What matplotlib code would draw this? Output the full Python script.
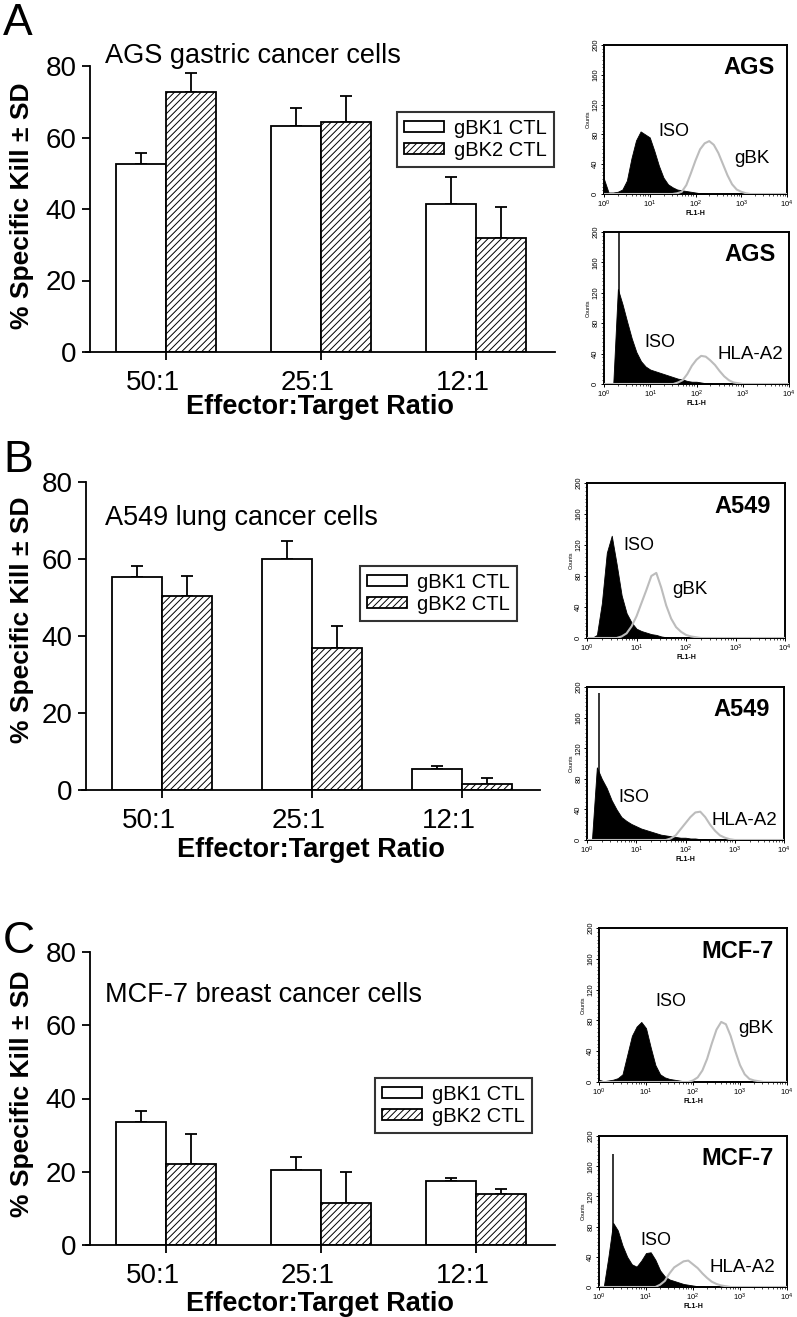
import numpy as np
import matplotlib.pyplot as plt
from matplotlib.ticker import MultipleLocator, FixedLocator, FixedFormatter, LogLocator, NullFormatter
from matplotlib.transforms import ScaledTranslation

plt.rcParams['font.family'] = ['Liberation Sans', 'DejaVu Sans']
plt.rcParams['mathtext.default'] = 'regular'
plt.rcParams['hatch.linewidth'] = 0.7
plt.rcParams['hatch.color'] = '#1a1a1a'

W, H = 797, 1317

# ---- bar chart data (% specific kill, upper SD) ----
ratios = ['50:1', '25:1', '12:1']
series = ['gBK1 CTL', 'gBK2 CTL']

ags_gbk1 = [52.5, 63.2, 41.5]
ags_gbk1_sd = [3.3, 5.0, 7.5]
ags_gbk2 = [72.8, 64.3, 32.0]
ags_gbk2_sd = [5.2, 7.4, 8.5]

a549_gbk1 = [55.3, 60.0, 5.5]
a549_gbk1_sd = [2.9, 4.8, 0.8]
a549_gbk2 = [50.3, 37.0, 1.5]
a549_gbk2_sd = [5.3, 5.6, 1.5]

mcf7_gbk1 = [33.5, 20.5, 17.5]
mcf7_gbk1_sd = [3.0, 3.6, 0.7]
mcf7_gbk2 = [22.0, 11.5, 14.0]
mcf7_gbk2_sd = [8.2, 8.3, 1.2]

# ---- flow cytometry histograms: counts per 0.1-decade channel, FL1-H 10^0..10^4 ----
log_bins = np.round(np.arange(0, 4.01, 0.1), 1)

ags_iso = [20, 2, 2, 3, 6, 18, 48, 72, 84, 80, 76, 58, 38, 22, 13, 9, 6, 5, 4, 3,
           2, 1, 1, 0, 0, 0, 0, 0, 0, 0, 0, 0, 0, 0, 0, 0, 0, 0, 0, 0, 0]
ags_gbk = [0, 0, 0, 0, 0, 0, 0, 0, 0, 0, 0, 0, 0, 0, 0, 0, 1, 3, 12, 28,
           45, 60, 68, 71, 66, 55, 40, 25, 13, 6, 3, 1, 0, 0, 0, 0, 0, 0, 0, 0, 0]
ags_iso2 = [0, 0, 0, 125, 105, 82, 60, 42, 30, 23, 19, 17, 15, 13, 11, 9, 7, 6, 4, 3,
            3, 2, 1, 1, 0, 0, 0, 0, 0, 0, 0, 0, 0, 0, 0, 0, 0, 0, 0, 0, 0]
ags_hla = [0, 0, 0, 0, 0, 0, 0, 0, 0, 0, 0, 0, 0, 0, 0, 0, 2, 5, 13, 24,
           32, 37, 36, 31, 25, 17, 10, 5, 2, 1, 0, 0, 0, 0, 0, 0, 0, 0, 0, 0, 0]

a549_iso = [0, 0, 4, 45, 110, 132, 95, 55, 32, 20, 12, 9, 7, 5, 4, 2, 1, 0, 0, 0,
            0, 0, 0, 0, 0, 0, 0, 0, 0, 0, 0, 0, 0, 0, 0, 0, 0, 0, 0, 0, 0]
a549_gbk = [0, 0, 0, 0, 0, 0, 0, 2, 6, 15, 28, 45, 62, 80, 84, 65, 42, 25, 14, 8,
            4, 2, 1, 0, 0, 0, 0, 0, 0, 0, 0, 0, 0, 0, 0, 0, 0, 0, 0, 0, 0]
a549_iso2 = [0, 0, 95, 80, 68, 52, 40, 30, 25, 21, 18, 15, 13, 11, 9, 7, 6, 5, 4, 3,
             3, 2, 2, 1, 1, 0, 0, 0, 0, 0, 0, 0, 0, 0, 0, 0, 0, 0, 0, 0, 0]
a549_hla = [0, 0, 0, 0, 0, 0, 0, 0, 0, 0, 0, 0, 0, 0, 0, 0, 0, 2, 6, 14,
            22, 30, 36, 37, 30, 20, 12, 6, 3, 1, 0, 0, 0, 0, 0, 0, 0, 0, 0, 0, 0]

mcf7_iso = [3, 1, 2, 3, 5, 10, 35, 60, 72, 78, 70, 45, 22, 10, 6, 4, 3, 2, 1, 0,
            0, 0, 0, 0, 0, 0, 0, 0, 0, 0, 0, 0, 0, 0, 0, 0, 0, 0, 0, 0, 0]
mcf7_gbk = [0, 0, 0, 0, 0, 0, 0, 0, 0, 0, 0, 0, 0, 0, 0, 0, 0, 0, 0, 0,
            2, 6, 15, 30, 50, 68, 78, 75, 60, 40, 22, 10, 4, 2, 1, 0, 0, 0, 0, 0, 0]
mcf7_iso2 = [0, 0, 40, 85, 75, 55, 40, 30, 27, 35, 45, 46, 36, 22, 14, 10, 8, 6, 4, 3,
             2, 1, 1, 0, 0, 0, 0, 0, 0, 0, 0, 0, 0, 0, 0, 0, 0, 0, 0, 0, 0]
mcf7_hla = [0, 0, 0, 0, 0, 0, 0, 0, 0, 0, 0, 0, 0, 3, 8, 18, 26, 30, 34, 35,
            30, 25, 18, 12, 7, 4, 2, 1, 0, 0, 0, 0, 0, 0, 0, 0, 0, 0, 0, 0, 0]

fig = plt.figure(figsize=(W / 100, H / 100), dpi=100)


def px_axes(l, t, r, b):
    return fig.add_axes([l / W, 1 - b / H, (r - l) / W, (b - t) / H])


def bar_panel(left, right, spine, top, bottom, first, step, g1, s1, g2, s2,
              title, title_y, leg_x, leg_y, xlab_x, xlab_y, ylab_y, lab_shift=-13):
    ax = px_axes(left, top, right, bottom)
    x = np.arange(len(ratios))
    w = 50 / step
    ax.bar(x - w / 2, g1, w, color='white', edgecolor='black', lw=1.3, label=series[0], zorder=2)
    ax.bar(x + w / 2, g2, w, color='white', edgecolor='black', lw=1.3, hatch='/////',
           label=series[1], zorder=2)
    ax.errorbar(x - w / 2, g1, yerr=[np.zeros(3), s1], fmt='none', ecolor='black',
                elinewidth=1.3, capsize=4, capthick=1.3, zorder=1)
    ax.errorbar(x + w / 2, g2, yerr=[np.zeros(3), s2], fmt='none', ecolor='black',
                elinewidth=1.3, capsize=4, capthick=1.3, zorder=1)
    ax.set_xlim((left - first) / step, (right - first) / step)
    ax.set_ylim(0, 80)
    ax.set_yticks([0, 20, 40, 60, 80])
    ax.set_xticks(x)
    ax.set_xticklabels(ratios)
    for sp in ['top', 'right']:
        ax.spines[sp].set_visible(False)
    for sp in ['left', 'bottom']:
        ax.spines[sp].set_linewidth(1.3)
    ax.spines['left'].set_position(('axes', (spine - left) / (right - left)))
    ax.spines['left'].set_bounds(0, 80)
    ax.tick_params(labelsize=20, width=1.3, length=6, direction='out')
    ax.tick_params(axis='x', pad=7)
    for lab in ax.get_xticklabels():
        lab.set_transform(lab.get_transform() +
                          ScaledTranslation(lab_shift / 100, 0, fig.dpi_scale_trans))
    fig.text(105 / W, 1 - title_y / H, title, fontsize=19.5, va='baseline')
    fig.text(xlab_x / W, 1 - xlab_y / H, 'Effector:Target Ratio',
             fontsize=19.5, weight='bold', ha='center', va='center')
    fig.text(22 / W, 1 - ylab_y / H, '% Specific Kill ± SD', fontsize=19,
             weight='bold', rotation=90, ha='center', va='center')
    leg = ax.legend(loc='upper left', bbox_to_anchor=(leg_x / W, 1 - leg_y / H),
                    bbox_transform=fig.transFigure, borderaxespad=0, fontsize=14.5,
                    frameon=True, fancybox=False, edgecolor='black', handlelength=2.0,
                    handleheight=0.45, handletextpad=0.5, labelspacing=0.15,
                    borderpad=0.35)
    leg.get_frame().set_linewidth(1.5)
    return ax


def hist_panel(l, t, r, b, iso, pos, pos_label, cell, iso_xy, pos_xy, spike=None):
    ax = px_axes(l, t, r, b)
    fl = 10 ** log_bins
    ax.fill_between(fl, 0, iso, color='black', lw=0.6, zorder=2)
    if spike is not None:
        ax.vlines(10 ** spike[0], 0, spike[1], color='black', lw=1.1, zorder=2)
    ax.plot(fl, pos, color='#bcbcbc', lw=1.5, zorder=3)
    ax.set_xscale('log')
    ax.set_xlim(1, 1e4)
    ax.set_ylim(0, 200)
    ax.xaxis.set_major_locator(FixedLocator([1, 10, 100, 1000, 10000]))
    ax.xaxis.set_major_formatter(FixedFormatter(['$10^0$', '$10^1$', '$10^2$', '$10^3$', '$10^4$']))
    ax.xaxis.set_minor_locator(LogLocator(base=10, subs=np.arange(2, 10)))
    ax.xaxis.set_minor_formatter(NullFormatter())
    ax.yaxis.set_major_locator(MultipleLocator(40))
    ax.yaxis.set_minor_locator(MultipleLocator(5))
    ax.tick_params(labelsize=5.5, length=2.5, width=0.7, pad=1)
    ax.tick_params(which='minor', length=1.5, width=0.5)
    ax.tick_params(axis='y', labelrotation=90)
    for lab in ax.get_yticklabels():
        lab.set_va('center')
    for sp in ax.spines.values():
        sp.set_linewidth(1.4)
    ax.set_xlabel('FL1-H', fontsize=5, weight='bold', labelpad=0)
    ax.set_ylabel('Counts', fontsize=4, labelpad=1)
    ax.text(0.93, 0.925, cell, transform=ax.transAxes, ha='right', va='top',
            fontsize=17, weight='bold')
    ax.text(10 ** iso_xy[0], iso_xy[1], 'ISO', ha='center', va='center', fontsize=13)
    ax.text(10 ** pos_xy[0], pos_xy[1], pos_label, ha='center', va='center', fontsize=13.5)
    return ax


# ---- panel A: AGS ----
fig.text(3 / W, 1 - 3 / H, 'A', fontsize=32, va='top')
bar_panel(86, 555, 90, 66, 352, 166, 155, ags_gbk1, ags_gbk1_sd, ags_gbk2, ags_gbk2_sd,
          'AGS gastric cancer cells', 63, 397, 112, 320, 407, 206)
hist_panel(604, 45, 787, 194, ags_iso, ags_gbk, 'gBK', 'AGS', (1.53, 84), (3.23, 48))
hist_panel(604, 232, 789, 384, ags_iso2, ags_hla, 'HLA-A2', 'AGS', (1.2, 55), (3.17, 39),
           spike=(0.32, 200))

# ---- panel B: A549 ----
fig.text(3 / W, 1 - 440 / H, 'B', fontsize=32, va='top')
bar_panel(82, 540, 86, 482, 790, 162, 150, a549_gbk1, a549_gbk1_sd, a549_gbk2, a549_gbk2_sd,
          'A549 lung cancer cells', 525, 360, 566, 311, 850, 620)
hist_panel(587, 483, 785, 638, a549_iso, a549_gbk, 'gBK', 'A549', (1.05, 120), (2.08, 63))
hist_panel(587, 687, 784, 840, a549_iso2, a549_hla, 'HLA-A2', 'A549', (0.95, 55), (3.19, 25),
           spike=(0.24, 192))

# ---- panel C: MCF-7 ----
fig.text(3 / W, 1 - 921 / H, 'C', fontsize=32, va='top')
bar_panel(86, 555, 90, 952, 1245, 166, 155, mcf7_gbk1, mcf7_gbk1_sd, mcf7_gbk2, mcf7_gbk2_sd,
          'MCF-7 breast cancer cells', 1002, 375, 1078, 320, 1304, 1094)
hist_panel(599, 928, 787, 1082, mcf7_iso, mcf7_gbk, 'gBK', 'MCF-7', (1.53, 105), (3.34, 70))
hist_panel(599, 1136, 787, 1287, mcf7_iso2, mcf7_hla, 'HLA-A2', 'MCF-7', (1.21, 62), (3.04, 26),
           spike=(0.3, 176))

fig.savefig('out.png', dpi=100)
